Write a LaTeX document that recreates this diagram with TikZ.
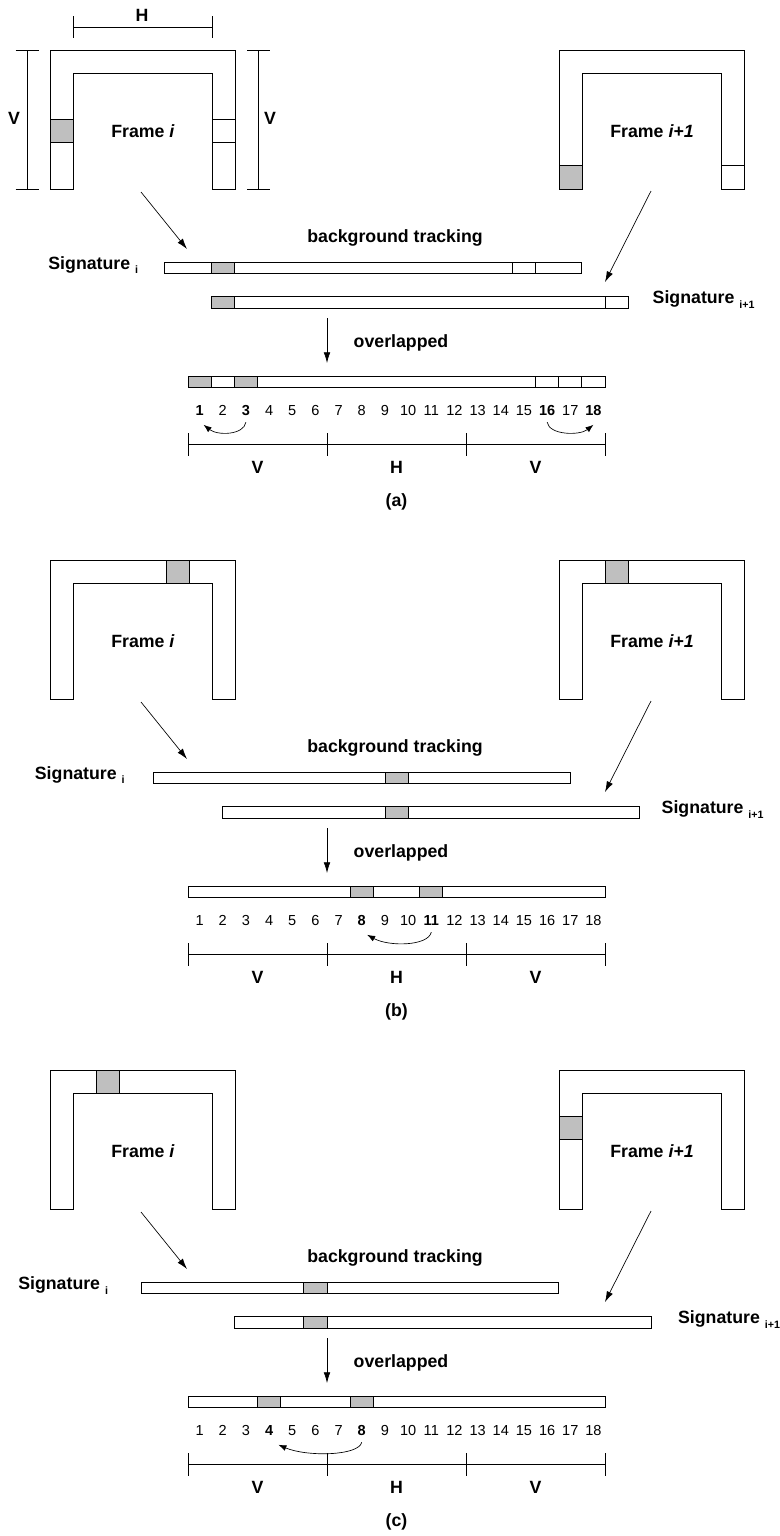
\documentclass[tikz,border=0pt]{standalone}
\usepackage{fontspec}
\setmainfont{Liberation Sans}
\usetikzlibrary{arrows.meta}

\newcommand{\numfont}{\fontsize{10.9}{12}\selectfont\mdseries}
\newcommand{\sigsub}[1]{\raisebox{-0.5ex}{\fontsize{8}{9}\selectfont\bfseries #1}}

% U-shaped frame, top left corner at (#1,#2)
\newcommand{\uframe}[2]{%
	\draw[frm] (#1,#2+139) -- ++(0,-139) -- ++(185.4,0) -- ++(0,139)
		-- ++(-23.2,0) -- ++(0,-115.8) -- ++(-139,0) -- ++(0,115.8) -- cycle;}

% signature bar of 18 cells, left end #1, top #2
\newcommand{\sigbar}[2]{\draw[bar] (#1,#2) rectangle ++(417.06,11.5);}
% cell #4 of the bar starting at #2
\newcommand{\sigcell}[4]{\draw[#1] ({#2+(#4-1)*23.17},#3) rectangle ++(23.17,11.5);}

% cell numbers 1..18, the ones in #3 in bold
\newcommand{\numrow}[3]{%
	\foreach \k in {1,...,18} {%
		\gdef\numwt{}%
		\foreach \j in {#3} {\ifnum\j=\k\relax\gdef\numwt{\bfseries}\fi}%
		\node[num, font=\numfont\numwt] (#1\k) at ({188+(\k-0.5)*23.17},#2) {\k};
	}}

% V | H | V split under the numbers
\newcommand{\splitrow}[2]{%
	\draw[dim] (188,#2) -- (605.1,#2);
	\foreach \x in {188,327,466.1,605.1} \draw[dim] (\x,#2-11.5) -- (\x,#2+11.5);
	\node (#1vl) at (257.5,#2+23) {V};
	\node (#1hm) at (396.5,#2+23) {H};
	\node (#1vr) at (535.5,#2+23) {V};}

\begin{document}
\begin{tikzpicture}
	[
	x=0.75pt, y=-0.75pt,
	font=\fontsize{13.3}{15}\selectfont\bfseries,
	frm/.style={draw, line width=0.6pt},
	shade/.style={draw, line width=0.6pt, fill=gray!50},
	blank/.style={draw, line width=0.6pt},
	bar/.style={draw, line width=0.6pt, fill=white},
	dim/.style={line width=0.6pt},
	arr/.style={line width=0.5pt, -{Latex[length=8pt,width=5pt]}},
	carr/.style={line width=0.5pt, -{Latex[length=6pt,width=4.5pt]}},
	num/.style={inner sep=1pt, text height=7.8pt, text depth=0pt},
	]
	\useasboundingbox (0,0) rectangle (779,1536);

	% ---------------- (a) ----------------
	\begin{scope}
		% frames
		\uframe{50}{50}
		\uframe{559}{50}
		\draw[shade] (50,119.5) rectangle ++(23.2,23.2);
		\draw[blank] (212.2,119.5) rectangle ++(23.2,23.2);
		\draw[shade] (559,165.8) rectangle ++(23.2,23.2);
		\draw[blank] (721.2,165.8) rectangle ++(23.2,23.2);
		\node (fa1) at (143,131) {Frame \textit{i}};
		\node (fa2) at (652,131) {Frame \textit{i+1}};

		% frame sizes
		\draw[dim] (73.2,27) -- (212.2,27);
		\draw[dim] (73.2,16) -- (73.2,38);
		\draw[dim] (212.2,16) -- (212.2,38);
		\node (ht) at (142,15) {H};
		\draw[dim] (27,50) -- (27,189);
		\draw[dim] (15.5,50) -- (38.5,50);
		\draw[dim] (15.5,189) -- (38.5,189);
		\node (vl) at (14,118) {V};
		\draw[dim] (258.5,50) -- (258.5,189);
		\draw[dim] (247,50) -- (270,50);
		\draw[dim] (247,189) -- (270,189);
		\node (vr) at (270,118) {V};

		% signatures
		\sigbar{164.83}{262}
		\sigcell{shade}{164.83}{262}{3}
		\sigcell{blank}{164.83}{262}{16}
		\sigbar{211.17}{296.5}
		\sigcell{shade}{211.17}{296.5}{1}
		\sigcell{blank}{211.17}{296.5}{18}
		\sigbar{188}{376}
		\sigcell{shade}{188}{376}{1}
		\sigcell{shade}{188}{376}{3}
		\sigcell{blank}{188}{376}{16}
		\sigcell{blank}{188}{376}{18}
		\node[anchor=base east] (sia) at (142.8,269.3) {Signature \sigsub{i}};
		\node[anchor=base west] (sja) at (648,303.8) {Signature \sigsub{i+1}};
		\node[anchor=base] (bta) at (395,242) {background tracking};
		\node[anchor=base] (ova) at (401,347) {overlapped};

		\coordinate (a-f1) at (141,192);
		\coordinate (a-s1) at (187,249);
		\coordinate (a-f2) at (651,191);
		\coordinate (a-s2) at (605,282);
		\coordinate (a-o1) at (327,318);
		\coordinate (a-o2) at (327,363);
		\foreach \from/\to in {a-f1/a-s1,a-f2/a-s2,a-o1/a-o2} \draw[arr] (\from) -- (\to);

		\numrow{a}{410}{1,3,16,18}
		\draw[carr] ([yshift=-4pt]a3.south) .. controls +(-2,13) and +(14,11) .. ([xshift=3pt,yshift=-6pt]a1.south);
		\draw[carr] ([yshift=-4pt]a16.south) .. controls +(2,13) and +(-14,11) .. ([yshift=-6pt]a18.south);
		\splitrow{a}{444.5}
		\node (capa) at (396.5,502) {(a)};
	\end{scope}

	% ---------------- (b) ----------------
	\begin{scope}[shift={(0,510)}]
		% frames
		\uframe{50}{50}
		\uframe{559}{50}
		\draw[shade] (165.9,50) rectangle ++(23.2,23.2);
		\draw[shade] (605.4,50) rectangle ++(23.2,23.2);
		\node (fb1) at (143,131) {Frame \textit{i}};
		\node (fb2) at (652,131) {Frame \textit{i+1}};

		% signatures
		\sigbar{153.25}{262}
		\sigcell{shade}{153.25}{262}{11}
		\sigbar{222.75}{296.5}
		\sigcell{shade}{222.75}{296.5}{8}
		\sigbar{188}{376}
		\sigcell{shade}{188}{376}{8}
		\sigcell{shade}{188}{376}{11}
		\node[anchor=base east] (sib) at (129.3,269.3) {Signature \sigsub{i}};
		\node[anchor=base west] (sjb) at (657,303.8) {Signature \sigsub{i+1}};
		\node[anchor=base] (btb) at (395,242) {background tracking};
		\node[anchor=base] (ovb) at (401,347) {overlapped};

		\coordinate (b-f1) at (141,192);
		\coordinate (b-s1) at (187,249);
		\coordinate (b-f2) at (651,191);
		\coordinate (b-s2) at (605,282);
		\coordinate (b-o1) at (327,318);
		\coordinate (b-o2) at (327,363);
		\foreach \from/\to in {b-f1/b-s1,b-f2/b-s2,b-o1/b-o2} \draw[arr] (\from) -- (\to);

		\numrow{b}{410}{8,11}
		\draw[carr] ([yshift=-4pt]b11.south) .. controls +(-3,14) and +(22,12) .. ([xshift=4pt,yshift=-6pt]b8.south);
		\splitrow{b}{444.5}
		\node (capb) at (396.5,502) {(b)};
	\end{scope}

	% ---------------- (c) ----------------
	\begin{scope}[shift={(0,1020)}]
		% frames
		\uframe{50}{50}
		\uframe{559}{50}
		\draw[shade] (96.4,50) rectangle ++(23.2,23.2);
		\draw[shade] (559,96.3) rectangle ++(23.2,23.2);
		\node (fc1) at (143,131) {Frame \textit{i}};
		\node (fc2) at (652,131) {Frame \textit{i+1}};

		% signatures
		\sigbar{141.66}{262}
		\sigcell{shade}{141.66}{262}{8}
		\sigbar{234.34}{296.5}
		\sigcell{shade}{234.34}{296.5}{4}
		\sigbar{188}{376}
		\sigcell{shade}{188}{376}{4}
		\sigcell{shade}{188}{376}{8}
		\node[anchor=base east] (sic) at (112.7,269.3) {Signature \sigsub{i}};
		\node[anchor=base west] (sjc) at (673.4,303.8) {Signature \sigsub{i+1}};
		\node[anchor=base] (btc) at (395,242) {background tracking};
		\node[anchor=base] (ovc) at (401,347) {overlapped};

		\coordinate (c-f1) at (141,192);
		\coordinate (c-s1) at (187,249);
		\coordinate (c-f2) at (651,191);
		\coordinate (c-s2) at (605,282);
		\coordinate (c-o1) at (327,318);
		\coordinate (c-o2) at (327,363);
		\foreach \from/\to in {c-f1/c-s1,c-f2/c-s2,c-o1/c-o2} \draw[arr] (\from) -- (\to);

		\numrow{c}{410}{4,8}
		\draw[carr] ([yshift=-4pt]c8.south) .. controls +(-3,14) and +(28,12) .. ([xshift=7pt,yshift=-6pt]c4.south);
		\splitrow{c}{444.5}
		\node (capc) at (396.5,502) {(c)};
	\end{scope}

\end{tikzpicture}
\end{document}
